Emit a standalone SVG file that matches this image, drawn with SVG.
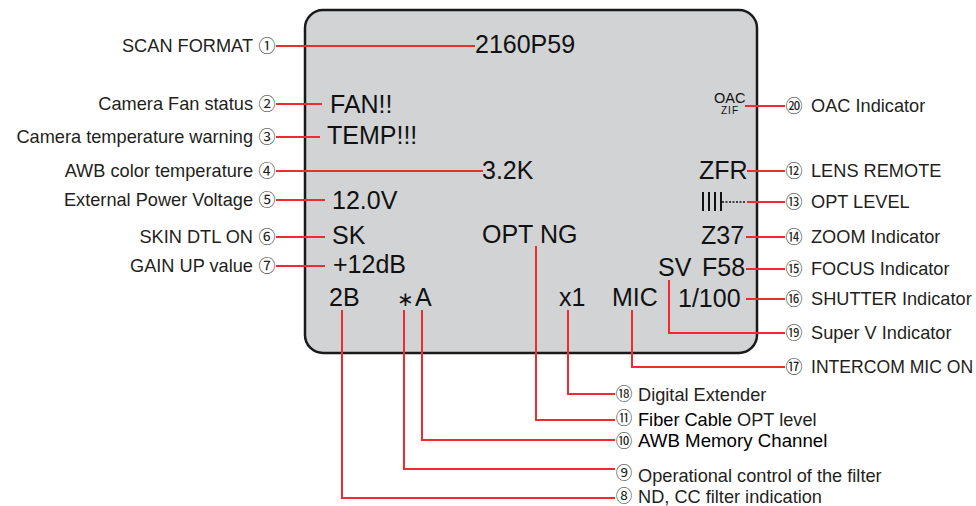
<svg xmlns="http://www.w3.org/2000/svg" width="976" height="506" viewBox="0 0 976 506">
<style>
.lbl{font-family:"Liberation Sans",Arial,sans-serif;font-size:18.2px;fill:#231f20}
.r{text-anchor:end}
.num{font-family:"Noto Sans CJK JP","DejaVu Sans",sans-serif;font-size:17px;fill:#231f20;text-anchor:middle}
.sm{font-size:16.5px}
.scr{font-family:"Liberation Sans",Arial,sans-serif;font-size:25px;fill:#111}
.ln{fill:none;stroke:#ec2d2f;stroke-width:2}
</style>
<g id="screen">
<rect x="305" y="10" width="452" height="343" rx="18" fill="#d1d3d4" stroke="#1a1a1a" stroke-width="2.5"/>
<text class="scr" x="475" y="53">2160P59</text>
<text class="scr" x="330" y="113">FAN!!</text>
<text class="scr" x="327" y="144">TEMP!!!</text>
<text class="scr" x="482" y="179">3.2K</text>
<text class="scr" x="332" y="209">12.0V</text>
<text class="scr" x="332" y="244">SK</text>
<text class="scr" x="333" y="273">+12dB</text>
<text class="scr" x="329" y="306">2B</text>
<text class="scr" y="306"><tspan x="397" style="font-size:20px">∗</tspan><tspan x="415">A</tspan></text>
<text class="scr" x="482" y="243">OPT NG</text>
<text class="scr" x="559" y="306">x1</text>
<text class="scr" x="612" y="306">MIC</text>
<text class="scr" x="678" y="307">1/100</text>
<text class="scr" y="276"><tspan x="658">SV </tspan><tspan x="702">F58</tspan></text>
<text class="scr" x="701" y="244">Z37</text>
<text class="scr" x="699" y="179">ZFR</text>
<text x="714" y="103" style="font-family:'Liberation Sans',Arial,sans-serif;font-size:14.5px;fill:#111">OAC</text>
<text x="721" y="114" style="font-family:'Liberation Sans',Arial,sans-serif;font-size:10px;letter-spacing:1px;fill:#111">ZIF</text>
<g stroke="#111" stroke-width="2">
<path d="M703 192V211M709 192V211M715 192V211M721 192V211"/>
<path d="M722 202H746" stroke-dasharray="2 1.5" stroke-width="1.6"/>
</g>
</g>
<g id="connectors">
<path class="ln" d="M276 46H475M276 104H322M276 137H320M276 171H483M276 200H325M276 237H325M276 266H325"/>
<path class="ln" d="M745 106H785M747 171H785M747 202H785M746 237H785M746 269H785M746 299H785M669 280V333H785M632 310V367H785"/>
<path class="ln" d="M568 310V394H615M536 246V420H615M422 310V440H615M404 310V469H615M342 310V498H615"/>
</g>
<g id="label-1"><text class="lbl r" x="253" y="52">SCAN FORMAT</text><text class="num" x="267" y="52">①</text></g>
<g id="label-2"><text class="lbl r" x="253" y="110">Camera Fan status</text><text class="num" x="267" y="110">②</text></g>
<g id="label-3"><text class="lbl r" x="253" y="143">Camera temperature warning</text><text class="num" x="267" y="143">③</text></g>
<g id="label-4"><text class="lbl r" x="253" y="177">AWB color temperature</text><text class="num" x="267" y="177">④</text></g>
<g id="label-5"><text class="lbl r" x="253" y="206">External Power Voltage</text><text class="num" x="267" y="206">⑤</text></g>
<g id="label-6"><text class="lbl r" x="253" y="243">SKIN DTL ON</text><text class="num" x="267" y="243">⑥</text></g>
<g id="label-7"><text class="lbl r" x="253" y="272">GAIN UP value</text><text class="num" x="267" y="272">⑦</text></g>
<g id="label-20"><text class="num" x="794" y="112">⑳</text><text class="lbl" x="811" y="112">OAC Indicator</text></g>
<g id="label-12"><text class="num" x="794" y="177">⑫</text><text class="lbl" x="811" y="177">LENS REMOTE</text></g>
<g id="label-13"><text class="num" x="794" y="208">⑬</text><text class="lbl" x="811" y="208">OPT LEVEL</text></g>
<g id="label-14"><text class="num" x="794" y="243">⑭</text><text class="lbl" x="811" y="243">ZOOM Indicator</text></g>
<g id="label-15"><text class="num" x="794" y="275">⑮</text><text class="lbl" x="811" y="275">FOCUS Indicator</text></g>
<g id="label-16"><text class="num" x="794" y="305">⑯</text><text class="lbl" x="811" y="305">SHUTTER Indicator</text></g>
<g id="label-19"><text class="num" x="794" y="339">⑲</text><text class="lbl" x="811" y="339">Super V Indicator</text></g>
<g id="label-17"><text class="num" x="794" y="373">⑰</text><text class="lbl" x="811" y="373" style="font-size:17.6px">INTERCOM MIC ON</text></g>
<g id="label-18"><text class="num" x="624" y="400">⑱</text><text class="lbl" x="638" y="401">Digital Extender</text></g>
<g id="label-11"><text class="num sm" x="624" y="424">⑪</text><text class="lbl" x="638" y="426"><tspan fill="#000">Fiber Cable</tspan> OPT level</text></g>
<g id="label-10"><text class="num sm" x="624" y="447">⑩</text><text class="lbl" x="638" y="447" style="font-size:18.7px;fill:#000">AWB Memory Channel</text></g>
<g id="label-9"><text class="num sm" x="624" y="479">⑨</text><text class="lbl" x="638" y="482">Operational control of the filter</text></g>
<g id="label-8"><text class="num sm" x="624" y="502">⑧</text><text class="lbl" x="638" y="503">ND, CC filter indication</text></g>
</svg>
